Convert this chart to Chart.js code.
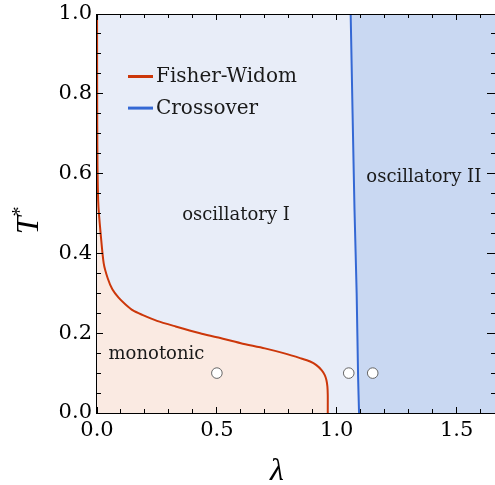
<!DOCTYPE html>
<html><head><meta charset="utf-8">
<script src="https://cdn.jsdelivr.net/npm/chart.js@4.4.1/dist/chart.umd.min.js"></script>
<style>html,body{margin:0;padding:0;background:#fff;}#wrap{width:495px;height:485px;}</style>
</head><body><div id="wrap"><canvas id="c" width="495" height="485"></canvas></div>
<script>
// ---- data ----
const fwLambda = [0.0002, 0.0005, 0.001, 0.002, 0.0035, 0.005, 0.008, 0.015, 0.028, 0.045, 0.064, 0.09, 0.119, 0.15, 0.189, 0.25, 0.328, 0.43, 0.5, 0.6, 0.7, 0.778, 0.85, 0.889, 0.915, 0.9375, 0.95, 0.957, 0.961, 0.9625, 0.9625];
const fwT      = [1.0, 0.85, 0.72, 0.62, 0.565, 0.53, 0.5, 0.451, 0.375, 0.337, 0.31, 0.289, 0.272, 0.257, 0.246, 0.231, 0.217, 0.200, 0.190, 0.175, 0.162, 0.150, 0.137, 0.129, 0.120, 0.107, 0.095, 0.082, 0.066, 0.045, 0.0];
const crossLambda = [1.058, 1.066, 1.074, 1.083, 1.089, 1.093];
const crossT      = [1.0, 0.75, 0.51, 0.30, 0.09, 0.0];
const markerLambda = [0.5, 1.05, 1.15];
const markerT      = [0.1, 0.1, 0.1];
const seriesNames = ['Fisher-Widom', 'Crossover'];
const regionNames = ['monotonic', 'oscillatory I', 'oscillatory II'];
const regionAnchorLambda = [0.248, 0.58, 1.363];
const regionAnchorT      = [0.135, 0.484, 0.58];
const xTickValues = [0, 0.5, 1.0, 1.5];
const yTickValues = [0, 0.2, 0.4, 0.6, 0.8, 1.0];
const xMinorStep = 0.1;
const yMinorStep = 0.05;
const xRange = [0, 1.66];
const yRange = [0, 1];
const xTitle = 'λ';
const yTitle = 'T';
const yTitleSup = '*';

// ---- styles ----
const BG = 'rgb(232,237,248)';
const PEACH = 'rgb(250,234,226)';
const BLUEFILL = 'rgb(201,216,242)';
const RED = 'rgb(204,55,10)';
const BLUE = 'rgb(52,104,212)';
const SERIF = 'DejaVu Serif';

const pts = (xs, ys) => xs.map((v, i) => ({x: v, y: ys[i]}));
const regionII = pts(crossLambda, crossT).concat([{x: xRange[1], y: yRange[0]}, {x: xRange[1], y: yRange[1]}]);

const decor = {
  id: 'decor',
  beforeDatasetsDraw(chart) {
    const {ctx, chartArea: a} = chart;
    ctx.save();
    ctx.fillStyle = BG;
    ctx.fillRect(a.left, a.top, a.right - a.left, a.bottom - a.top);
    ctx.restore();
  },
  afterDatasetsDraw(chart) {
    const {ctx, chartArea: a} = chart;
    const xs = chart.scales.x, ys = chart.scales.y;
    ctx.save();
    ctx.strokeStyle = '#000';
    ctx.lineWidth = 1;
    ctx.beginPath();
    const nx = Math.floor((xRange[1] - xRange[0]) / xMinorStep + 1e-6);
    for (let i = 0; i <= nx; i++) {
      const v = xRange[0] + i * xMinorStep;
      const major = xTickValues.some(t => Math.abs(t - v) < 1e-6);
      const L = major ? 6 : 4;
      const px = Math.floor(xs.getPixelForValue(v)) + 0.5;
      ctx.moveTo(px, a.bottom); ctx.lineTo(px, a.bottom - L);
      ctx.moveTo(px, a.top); ctx.lineTo(px, a.top + L);
    }
    const ny = Math.floor((yRange[1] - yRange[0]) / yMinorStep + 1e-6);
    for (let i = 0; i <= ny; i++) {
      const v = yRange[0] + i * yMinorStep;
      const major = yTickValues.some(t => Math.abs(t - v) < 1e-6);
      const L = major ? 6 : 4;
      const py = Math.floor(ys.getPixelForValue(v)) + 0.5;
      ctx.moveTo(a.left, py); ctx.lineTo(a.left + L, py);
      ctx.moveTo(a.right, py); ctx.lineTo(a.right - L - (major ? 2 : 0), py);
    }
    ctx.stroke();
    // frame
    ctx.beginPath();
    ctx.moveTo(a.left - 0.5, a.top); ctx.lineTo(a.left - 0.5, a.bottom + 1);
    ctx.moveTo(a.left - 1, a.bottom + 0.5); ctx.lineTo(a.right, a.bottom + 0.5);
    ctx.moveTo(a.left - 1, a.top + 0.5); ctx.lineTo(a.right, a.top + 0.5);
    ctx.stroke();

    // region labels
    ctx.fillStyle = '#1a1a1a';
    ctx.font = '18px "' + SERIF + '"';
    ctx.textAlign = 'center';
    ctx.textBaseline = 'alphabetic';
    regionNames.forEach((t, i) => {
      ctx.fillText(t, xs.getPixelForValue(regionAnchorLambda[i]), ys.getPixelForValue(regionAnchorT[i]));
    });

    // legend
    const legendSets = chart.data.datasets.filter(d => seriesNames.includes(d.label));
    ctx.font = '20px "' + SERIF + '"';
    ctx.textAlign = 'left';
    legendSets.forEach((d, i) => {
      const ly = a.top + 62.5 + i * 31.6;
      ctx.strokeStyle = d.borderColor;
      ctx.lineWidth = 3;
      ctx.beginPath();
      ctx.moveTo(a.left + 31, ly); ctx.lineTo(a.left + 56, ly);
      ctx.stroke();
      ctx.fillStyle = '#1a1a1a';
      ctx.fillText(d.label, a.left + 59, ly + 5.8);
    });

    // axis titles
    ctx.fillStyle = '#000';
    ctx.font = 'italic 32px "Liberation Serif"';
    ctx.textAlign = 'center';
    ctx.textBaseline = 'alphabetic';
    ctx.fillText(xTitle, xs.getPixelForValue(0.75), a.bottom + 67);
    ctx.save();
    ctx.translate(a.left - 59, ys.getPixelForValue(0.47));
    ctx.rotate(-Math.PI / 2);
    ctx.fillText(yTitle, 0, 0);
    ctx.font = '20px "Liberation Serif"';
    ctx.fillText(yTitleSup, 14, -12);
    ctx.restore();
    ctx.restore();
  }
};

new Chart(document.getElementById('c'), {
  type: 'line',
  data: {
    datasets: [
      {label: 'region II', data: regionII, fill: 'shape', backgroundColor: BLUEFILL, borderWidth: 0, pointRadius: 0, order: 5, tension: 0},
      {label: seriesNames[0], data: pts(fwLambda, fwT), fill: 'origin', backgroundColor: PEACH, borderColor: RED, borderWidth: 2, pointRadius: 0, order: 4, tension: 0.25},
      {label: seriesNames[1], data: pts(crossLambda, crossT), fill: false, borderColor: BLUE, borderWidth: 2, pointRadius: 0, order: 3, tension: 0.2},
      {label: 'points', data: pts(markerLambda, markerT), showLine: false, pointRadius: 5.3, pointBackgroundColor: '#fff', pointBorderColor: '#666', pointBorderWidth: 1, order: 1}
    ]
  },
  options: {
    responsive: false,
    animation: false,
    devicePixelRatio: 1,
    layout: {autoPadding: false, padding: {top: 14, right: 0, left: 0, bottom: 0}},
    plugins: {legend: {display: false}, tooltip: {enabled: false}},
    events: [],
    scales: {
      x: {
        type: 'linear', min: xRange[0], max: xRange[1],
        afterBuildTicks: s => { s.ticks = xTickValues.map(v => ({value: v})); },
        afterFit: s => { s.height = 72; s.paddingLeft = 0; s.paddingRight = 0; s.paddingTop = 0; s.paddingBottom = 0; },
        ticks: {autoSkip: false, maxRotation: 0, padding: 5, color: '#000', font: {family: SERIF, size: 21}, callback: v => v.toFixed(1)},
        grid: {display: false, drawTicks: false},
        border: {display: false}
      },
      y: {
        type: 'linear', min: yRange[0], max: yRange[1],
        afterBuildTicks: s => { s.ticks = yTickValues.map(v => ({value: v})); },
        afterFit: s => { s.width = 97; s.paddingLeft = 0; s.paddingRight = 0; s.paddingTop = 0; s.paddingBottom = 0; },
        ticks: {autoSkip: false, padding: 5, color: '#000', font: {family: SERIF, size: 21}, callback: v => v.toFixed(1)},
        grid: {display: false, drawTicks: false},
        border: {display: false}
      }
    }
  },
  plugins: [decor]
});
</script>
</body></html>
